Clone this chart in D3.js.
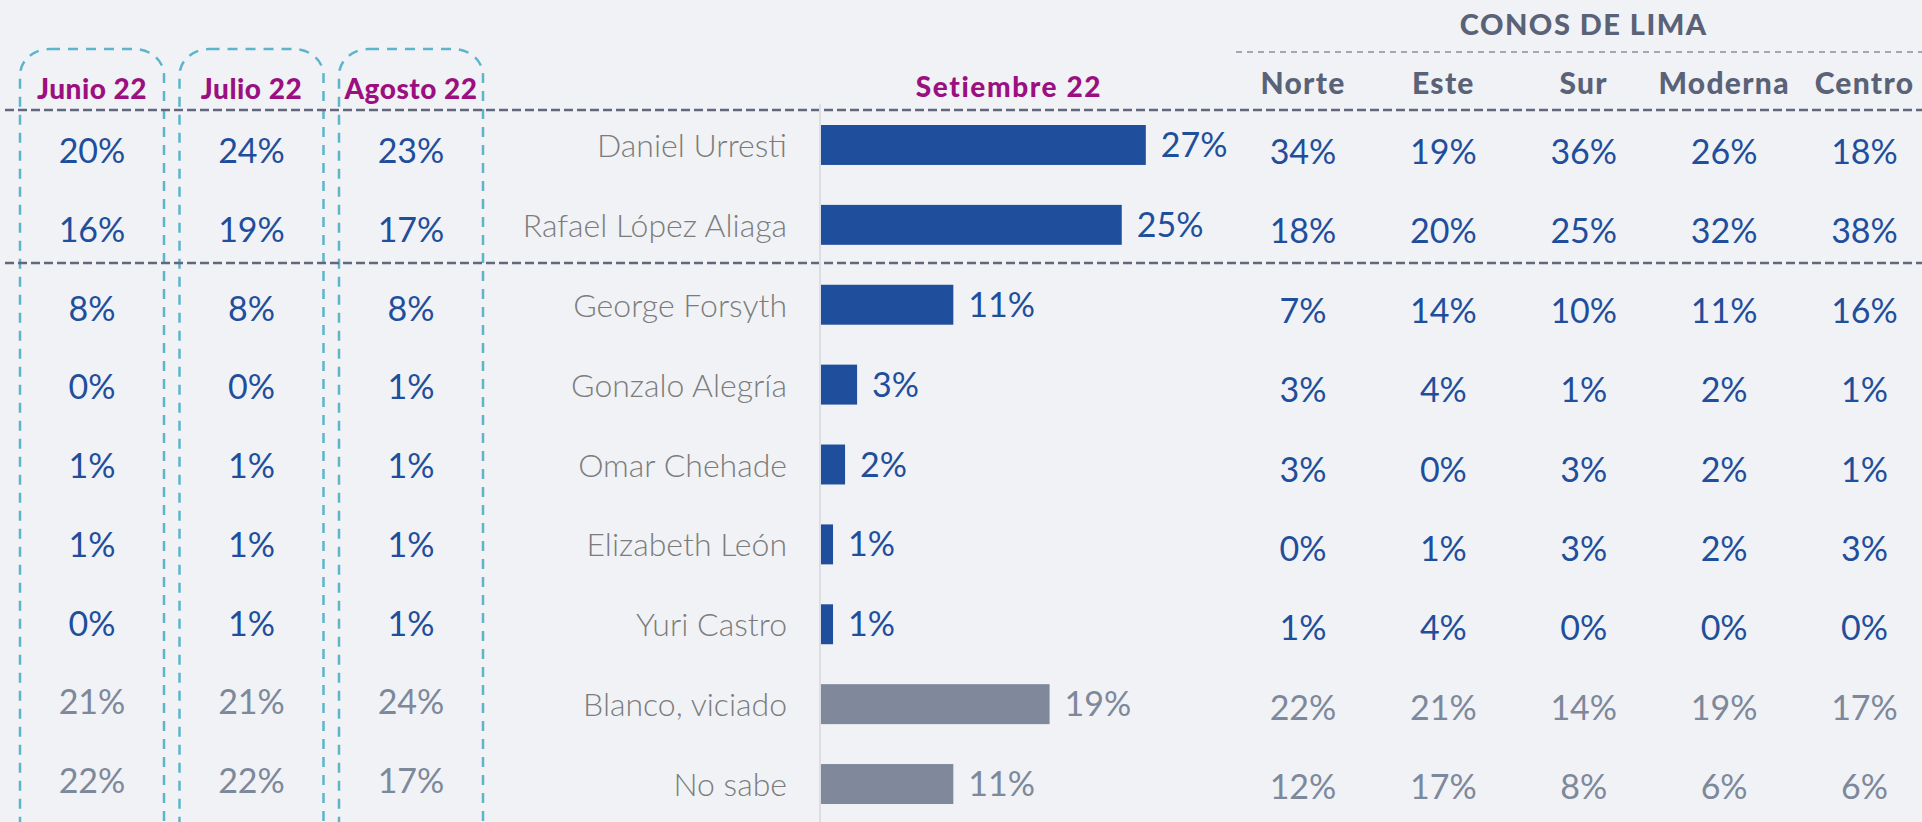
<!DOCTYPE html>
<html>
<head>
<meta charset="utf-8">
<script src="https://cdn.jsdelivr.net/npm/d3@7"></script>
<style>
	html, body { margin:0; padding:0; background:#f0f2f6; }
	svg { display:block; }
	text { font-family: Lato, 'Open Sans', sans-serif; }
	.head { font-weight:900; }
</style>
</head>
<body>
<div id="chart"></div>
<script>

// data
const candidates = ['Daniel Urresti','Rafael López Aliaga','George Forsyth','Gonzalo Alegría','Omar Chehade','Elizabeth León','Yuri Castro','Blanco, viciado','No sabe'];
const neutral = ['Blanco, viciado','No sabe']; // drawn in grey
const setiembre = [27,25,11,3,2,1,1,19,11];

const months = ['Junio 22','Julio 22','Agosto 22'];
const junio = [20,16,8,0,1,1,0,21,22];
const julio = [24,19,8,0,1,1,1,21,22];
const agosto = [23,17,8,1,1,1,1,24,17];

const conosTitle = 'CONOS DE LIMA';
const conos = ['Norte','Este','Sur','Moderna','Centro'];
const norte = [34,18,7,3,3,0,1,22,12];
const este = [19,20,14,4,0,1,4,21,17];
const sur = [36,25,10,1,3,3,0,14,8];
const moderna = [26,32,11,2,2,2,0,19,6];
const centro = [18,38,16,1,1,3,0,17,6];
const currentLabel = 'Setiembre 22';

const monthValues = [junio, julio, agosto];
const conoValues = [norte, este, sur, moderna, centro];

const width = 1922;
const height = 822;

const blue = '#1f4e9c';
const grey = '#7e889b';
const nameGrey = '#7c7c7c';
const magenta = '#9c0f80';
const headGrey = '#5a6277';

const isNeutral = d => neutral.includes(d);
const fmt = d => d + '%';

const svg = d3.select('#chart').append('svg')
	.attr('width', width)
	.attr('height', height);

//Scales
const scaleRow = d3.scaleBand().domain(candidates).range([125, 804]).paddingInner(0.5).paddingOuter(0);
const scaleRowLeft = d3.scalePoint().domain(candidates).range([151, 781]);
const scaleRowRight = d3.scalePoint().domain(candidates).range([152, 787]);
const scaleX = d3.scaleLinear().domain([0, 10]).range([821, 941.3]);
const scaleMonth = d3.scalePoint().domain(months).range([92, 411]);
const scaleCono = d3.scalePoint().domain(conos).range([1303, 1864.5]);

//Dashed boxes around the month columns
svg.selectAll('.box')
	.data(months)
	.enter().append('rect')
	.attr('class','box')
	.attr('x', d => scaleMonth(d) - 72)
	.attr('y', 49)
	.attr('width', 144)
	.attr('height', 800)
	.attr('rx', 30).attr('ry', 26)
	.style('fill','none')
	.style('stroke','#5cb5cb')
	.style('stroke-width',2.5)
	.style('stroke-dasharray','10,8');

//Horizontal separators
svg.selectAll('.sep')
	.data([110, 263])
	.enter().append('line')
	.attr('class','sep')
	.attr('x1', 5).attr('x2', width)
	.attr('y1', d => d).attr('y2', d => d)
	.style('stroke','#62677c')
	.style('stroke-width',2.5)
	.style('stroke-dasharray','9,4');

svg.append('line')
	.attr('x1', 1236).attr('x2', width)
	.attr('y1', 52).attr('y2', 52)
	.style('stroke','#a2a7b4')
	.style('stroke-width',2)
	.style('stroke-dasharray','6,5');

//Bar axis line
svg.append('line')
	.attr('x1', scaleX(0) - 1).attr('x2', scaleX(0) - 1)
	.attr('y1', 104).attr('y2', height)
	.style('stroke','#dcdee3')
	.style('stroke-width',2);

//Headers
svg.selectAll('.month-head')
	.data(months)
	.enter().append('text')
	.attr('class','head month-head')
	.attr('x', d => scaleMonth(d))
	.attr('y', 99)
	.attr('text-anchor','middle')
	.style('font-size','28px')
	.style('letter-spacing','0.5px')
	.style('fill', magenta)
	.text(d => d);

svg.append('text')
	.attr('class','head')
	.attr('x', 1009)
	.attr('y', 97)
	.attr('text-anchor','middle')
	.style('font-size','28px')
	.style('letter-spacing','1.6px')
	.style('fill', magenta)
	.text(currentLabel);

svg.append('text')
	.attr('class','head')
	.attr('x', scaleCono(conos[2]))
	.attr('y', 35)
	.attr('text-anchor','middle')
	.style('font-size','29px')
	.style('letter-spacing','1.5px')
	.style('fill', headGrey)
	.text(conosTitle);

svg.selectAll('.cono-head')
	.data(conos)
	.enter().append('text')
	.attr('class','head cono-head')
	.attr('x', d => scaleCono(d))
	.attr('y', 94)
	.attr('text-anchor','middle')
	.style('font-size','30px')
	.style('letter-spacing','1.3px')
	.style('fill', headGrey)
	.text(d => d);

//Month columns
monthValues.forEach((vals, j) => {
	svg.selectAll('.m' + j)
		.data(vals)
		.enter().append('text')
		.attr('class','m' + j)
		.attr('x', scaleMonth(months[j]))
		.attr('y', (d,i) => scaleRowLeft(candidates[i]) + 12)
		.attr('text-anchor','middle')
		.style('font-size','34px')
		.style('fill', (d,i) => isNeutral(candidates[i]) ? grey : blue)
		.text(fmt);
});

//Names
svg.selectAll('.name')
	.data(candidates)
	.enter().append('text')
	.attr('class','name')
	.attr('x', 787)
	.attr('y', d => scaleRow(d) + scaleRow.bandwidth()/2 + 12)
	.attr('text-anchor','end')
	.style('font-size','32px')
	.style('font-weight',300)
	.style('fill', nameGrey)
	.text(d => d);

//Bars
svg.selectAll('.bar')
	.data(setiembre)
	.enter().append('rect')
	.attr('class','bar')
	.attr('x', scaleX(0))
	.attr('y', (d,i) => scaleRow(candidates[i]))
	.attr('width', d => scaleX(d) - scaleX(0))
	.attr('height', scaleRow.bandwidth())
	.style('fill', (d,i) => isNeutral(candidates[i]) ? '#7f899b' : blue);

svg.selectAll('.bar-label')
	.data(setiembre)
	.enter().append('text')
	.attr('class','bar-label')
	.attr('x', d => scaleX(d) + 15)
	.attr('y', (d,i) => scaleRow(candidates[i]) + scaleRow.bandwidth()/2 + 12)
	.style('font-size','34px')
	.style('fill', (d,i) => isNeutral(candidates[i]) ? grey : blue)
	.text(fmt);

//Conos columns
conoValues.forEach((vals, j) => {
	svg.selectAll('.c' + j)
		.data(vals)
		.enter().append('text')
		.attr('class','c' + j)
		.attr('x', scaleCono(conos[j]))
		.attr('y', (d,i) => scaleRowRight(candidates[i]) + 12)
		.attr('text-anchor','middle')
		.style('font-size','34px')
		.style('fill', (d,i) => isNeutral(candidates[i]) ? grey : blue)
		.text(fmt);
});

</script>
</body>
</html>
